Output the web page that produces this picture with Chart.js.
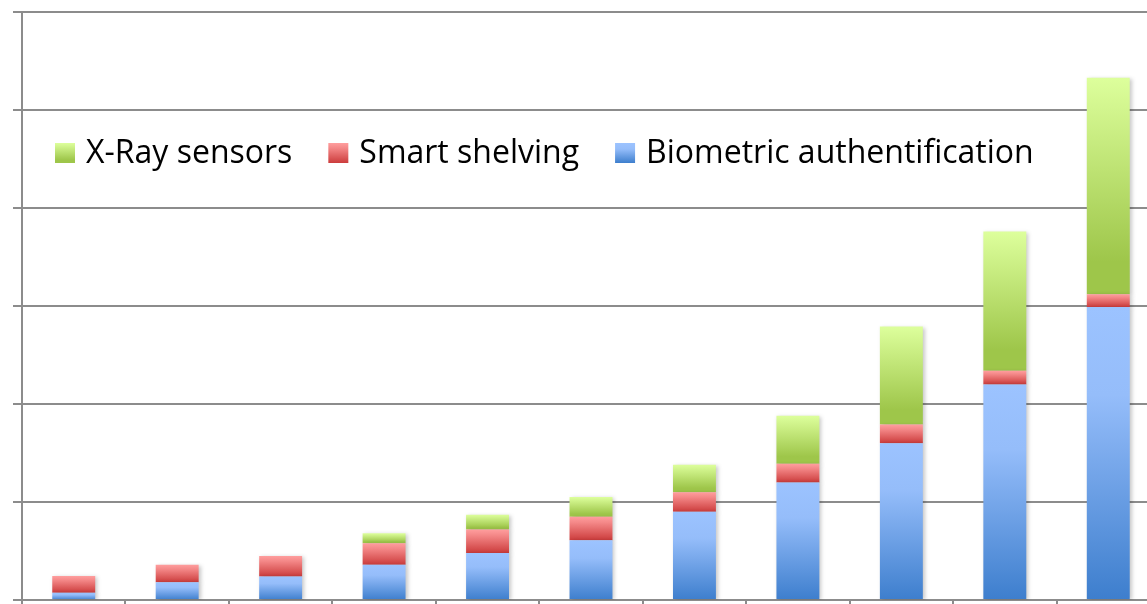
<!DOCTYPE html>
<html>
<head>
<meta charset="utf-8">
<script src="https://cdn.jsdelivr.net/npm/chart.js@4"></script>
<style>
  html, body { margin: 0; padding: 0; background: #fff; overflow: hidden; }
  #wrap { width: 1160px; height: 604px; }
</style>
</head>
<body>
<div id="wrap"><canvas id="stackChart"></canvas></div>
<script>
// Dados (valores estimados)
const categorias = ['1', '2', '3', '4', '5', '6', '7', '8', '9', '10', '11'];
const biometria = [0.75, 1.8, 2.4, 3.6, 4.8, 6.1, 9.0, 12.0, 16.0, 22.0, 29.9];
const prateleiras = [1.7, 1.8, 2.1, 2.2, 2.4, 2.4, 2.0, 1.9, 1.9, 1.4, 1.3];
const raioX = [0, 0, 0, 1.0, 1.5, 2.0, 2.8, 4.9, 10.0, 14.2, 22.1];
const nomes = ['Biometric authentification', 'Smart shelving', 'X-Ray sensors'];

// paradas de cor do degradê (topo -> base) de cada série
const degrades = [
  [[0, '#9cc3ff'], [0.3, '#95bdfa'], [1, '#3d7ecd']],
  [[0, '#ff9e9e'], [0.25, '#f48888'], [1, '#cc3c3c']],
  [[0, '#ddff9c'], [0.85, '#9ec64a'], [1, '#9ec64a']]
];

function fazDegrade(ctx, topo, base, paradas) {
  const g = ctx.createLinearGradient(0, topo, 0, base);
  paradas.forEach(p => g.addColorStop(p[0], p[1]));
  return g;
}

function corBarra(indiceSerie) {
  return function (context) {
    const chart = context.chart;
    const y = chart.scales && chart.scales.y;
    if (!y || context.dataIndex === undefined) return degrades[indiceSerie][0][1];
    const series = [biometria, prateleiras, raioX];
    let baseVal = 0;
    for (let k = 0; k < indiceSerie; k++) baseVal += series[k][context.dataIndex];
    const topoVal = baseVal + series[indiceSerie][context.dataIndex];
    const topo = y.getPixelForValue(topoVal);
    const base = y.getPixelForValue(baseVal);
    if (!isFinite(topo) || !isFinite(base) || topo === base) return degrades[indiceSerie][0][1];
    return fazDegrade(chart.ctx, topo, base, degrades[indiceSerie]);
  };
}

// sombra leve atrás das barras
const sombraPlugin = {
  id: 'sombra',
  beforeDatasetsDraw(chart) {
    const c = chart.ctx;
    c.save();
    c.shadowColor = 'rgba(0,0,0,0.22)';
    c.shadowBlur = 4;
    c.shadowOffsetX = 2;
    c.shadowOffsetY = 1;
  },
  afterDatasetsDraw(chart) {
    chart.ctx.restore();
  }
};

// legenda desenhada dentro da área do gráfico
const legendaPlugin = {
  id: 'legendaInterna',
  afterDraw(chart) {
    const c = chart.ctx;
    c.save();
    c.font = '32px "Open Sans", Lato, sans-serif';
    c.textBaseline = 'middle';
    c.fillStyle = '#000';
    let x = 55;
    const yMeio = 153;
    for (let i = nomes.length - 1; i >= 0; i--) {
      c.fillStyle = fazDegrade(c, yMeio - 10, yMeio + 10, degrades[i]);
      c.fillRect(x, yMeio - 10, 20, 20);
      c.fillStyle = '#000';
      c.fillText(nomes[i], x + 31, yMeio + 1);
      x += 31 + c.measureText(nomes[i]).width + 36;
    }
    c.restore();
  }
};

const ctx = document.getElementById('stackChart').getContext('2d');
new Chart(ctx, {
  type: 'bar',
  data: {
    labels: categorias,
    datasets: [
      { label: nomes[0], data: biometria, backgroundColor: corBarra(0) },
      { label: nomes[1], data: prateleiras, backgroundColor: corBarra(1) },
      { label: nomes[2], data: raioX, backgroundColor: corBarra(2) }
    ]
  },
  options: {
    responsive: true,
    maintainAspectRatio: false,
    animation: false,
    layout: { padding: { left: 13, top: 12, right: 0, bottom: 0 } },
    datasets: { bar: { categoryPercentage: 1, barPercentage: 0.415, borderWidth: 0 } },
    scales: {
      x: {
        stacked: true,
        ticks: { display: false },
        grid: { display: true, drawOnChartArea: false, tickLength: 4, color: '#8c8c8c', lineWidth: 2 },
        border: { display: true, color: '#8c8c8c', width: 2 }
      },
      y: {
        stacked: true,
        min: 0,
        max: 60,
        ticks: { display: false, stepSize: 10 },
        grid: { color: '#8c8c8c', lineWidth: 2, tickLength: 9 },
        border: { display: true, color: '#8c8c8c', width: 2 }
      }
    },
    plugins: {
      legend: { display: false },
      tooltip: { enabled: false }
    }
  },
  plugins: [sombraPlugin, legendaPlugin]
});
</script>
</body>
</html>
